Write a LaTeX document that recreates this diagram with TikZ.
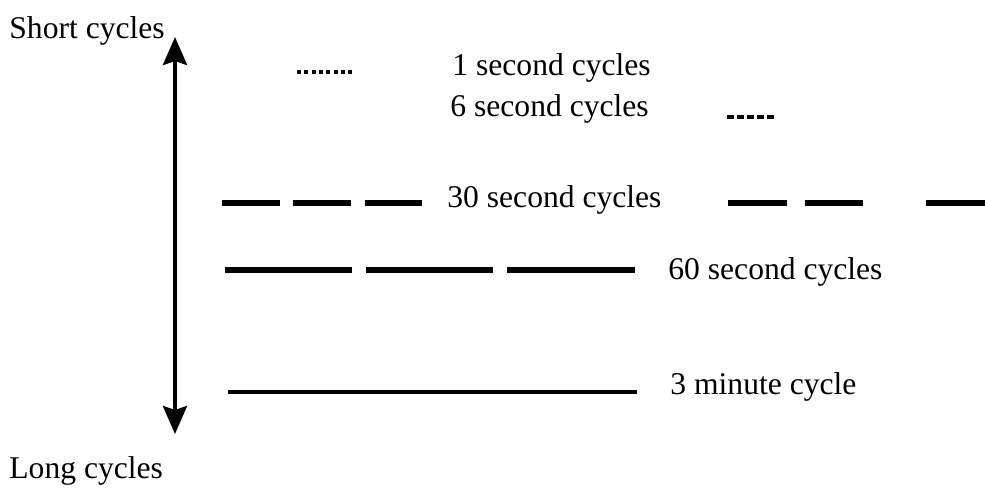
\documentclass[tikz,border=0pt]{standalone}
\usepackage{fontspec}
\setmainfont{Liberation Serif}
\usetikzlibrary{arrows.meta}
\begin{document}
\begin{tikzpicture}[x=0.5pt,y=-0.5pt,
  lbl/.style={anchor=base west,inner sep=0pt,font=\fontsize{15.8}{18}\selectfont},
  axis/.style={line width=2pt,{Stealth[length=14pt,width=12pt,inset=2pt]}-{Stealth[length=14pt,width=12pt,inset=2pt]}},
  bar/.style={line width=2.7pt},
  thinbar/.style={line width=2.2pt},
  dotbar/.style={line width=2pt,dash pattern=on 2pt off 1.65pt},
  dashbar/.style={line width=2pt,dash pattern=on 3.5pt off 1.5pt}]
\useasboundingbox (0,0) rectangle (985,496);

% axis labels and double-headed axis
\node[lbl] (short) at (9,39) {Short cycles};
\node[lbl] (long) at (9,479) {Long cycles};
\coordinate (top) at (175,37);
\coordinate (bot) at (175,434);
\draw[axis] (bot) -- (top);

% cycle labels
\node[lbl] (c1) at (452,76) {1 second cycles};
\node[lbl] (c6) at (450,117) {6 second cycles};
\node[lbl] (c30) at (447,208) {30 second cycles};
\node[lbl] (c60) at (668,280) {60 second cycles};
\node[lbl] (c3m) at (670,394) {3 minute cycle};

% 1 second cycles
\draw[dotbar] (297,72) -- (353,72);
% 6 second cycles
\draw[dashbar] (727,117) -- (776,117);
% 30 second cycles
\foreach \a/\b in {222/280,293/351,365/422,728/787,805/863,926/985}
  \draw[bar] (\a,203) -- (\b,203);
% 60 second cycles
\foreach \a/\b in {225/352,366/493,507/635}
  \draw[bar] (\a,270) -- (\b,270);
% 3 minute cycle
\draw[thinbar] (228,392) -- (637,392);
\end{tikzpicture}
\end{document}
